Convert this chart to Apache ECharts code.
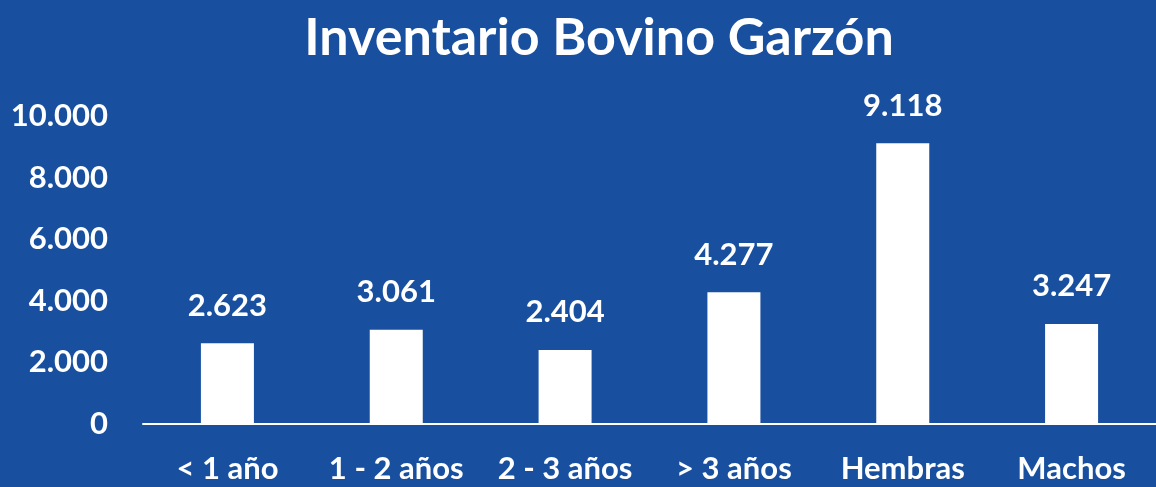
<!DOCTYPE html>
<html>
<head>
<meta charset="utf-8">
<script src="https://cdn.jsdelivr.net/npm/echarts@6/dist/echarts.min.js"></script>
<style>
html,body{margin:0;padding:0;background:#18509f;}
#chart{width:1156px;height:487px;}
</style>
</head>
<body>
<div id="chart"></div>
<script>
var categories = ['< 1 año', '1 - 2 años', '2 - 3 años', '> 3 años', 'Hembras', 'Machos'];
var values = [2623, 3061, 2404, 4277, 9118, 3247];
var yTicks = [0, 2000, 4000, 6000, 8000, 10000];

function fmt(v) {
	// separador de miles con punto
	return String(v).replace(/\B(?=(\d{3})+(?!\d))/g, '.');
}

var dom = document.getElementById('chart');
var myChart = echarts.init(dom);
var option = {
	backgroundColor: '#18509f',
	title: {
		text: 'Inventario Bovino Garzón',
		left: 594,
		textAlign: 'center',
		top: 7,
		textStyle: {
			color: '#fff',
			fontFamily: 'Lato',
			fontWeight: 'bold',
			fontSize: 52
		}
	},
	grid: {
		left: 143,
		width: 1020,
		top: 116,
		bottom: 63
	},
	xAxis: {
		type: 'category',
		data: categories,
		axisLine: { lineStyle: { color: '#fff', width: 2 } },
		axisTick: { show: false },
		axisLabel: {
			color: '#fff',
			fontFamily: 'Lato',
			fontWeight: 'bold',
			fontSize: 31,
			margin: 29,
			interval: 0
		}
	},
	yAxis: {
		type: 'value',
		min: yTicks[0],
		max: yTicks[yTicks.length - 1],
		interval: 2000,
		splitLine: { show: false },
		axisLine: { show: false },
		axisTick: { show: false },
		axisLabel: {
			color: '#fff',
			fontFamily: 'Lato',
			fontWeight: 'bold',
			fontSize: 31,
			margin: 35,
			formatter: function (v) { return fmt(v); }
		}
	},
	series: [{
		type: 'bar',
		data: values,
		barWidth: 53,
		itemStyle: { color: '#fff' },
		label: {
			show: true,
			position: 'top',
			distance: 22,
			color: '#fff',
			fontFamily: 'Lato',
			fontWeight: 'bold',
			fontSize: 31,
			formatter: function (p) { return fmt(p.value); }
		}
	}]
};
myChart.setOption(option, true);
</script>
</body>
</html>
